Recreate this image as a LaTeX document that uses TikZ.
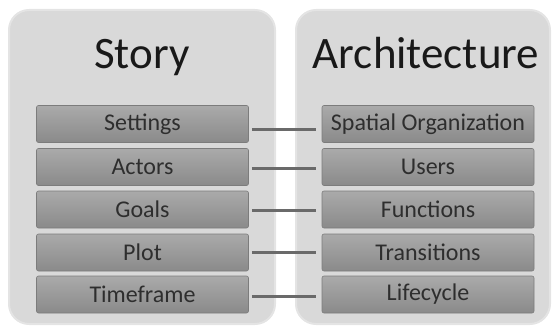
\documentclass[tikz,border=0pt]{standalone}
\usepackage{fontspec}
\setmainfont{Carlito}
\usepackage{xcolor}
\usetikzlibrary{arrows}

\definecolor{panelgray}{HTML}{D9D9D9}
\definecolor{panelrim}{HTML}{E4E4E4}
\definecolor{boxtop}{HTML}{AAAAAA}
\definecolor{boxbot}{HTML}{8A8A8A}
\definecolor{linkgray}{HTML}{6A6A6A}
\definecolor{labelgray}{HTML}{2E2E2E}

\tikzset{
  panel/.style={fill=panelgray, draw=panelrim, line width=2pt, rounded corners=20pt},
  title/.style={anchor=base, text=black!90, font=\fontsize{45}{45}\selectfont},
  item/.style={top color=boxtop, bottom color=boxbot, draw=boxbot!90!black, line width=0.6pt,
    rounded corners=2pt, minimum width=212pt, minimum height=37pt, inner sep=0pt,
    text=labelgray, font=\fontsize{24}{24}\selectfont},
  link/.style={draw=linkgray, line width=3pt, shorten <=3pt, shorten >=6pt}
}

\begin{document}
\begin{tikzpicture}[x=1pt,y=-1pt]
    \useasboundingbox (0,0) rectangle (555,329);

    \draw[panel] (9,10) rectangle (275,324);
    \draw[panel] (296,10) rectangle (550,324);

    \node[title] (story) at (142,69) {Story};
    \node[title] (arch) at (426,69) {Architecture};

    \node[item] (settings) at (142.5,124) {Settings};
    \node[item] (actors) at (142.5,167) {Actors};
    \node[item] (goals) at (142.5,209.5) {Goals};
    \node[item] (plot) at (142.5,252.5) {Plot};
    \node[item] (timeframe) at (142.5,294.5) {Timeframe};

    \node[item] (spatial) at (428,124) {Spatial Organization};
    \node[item] (users) at (428,167) {Users};
    \node[item] (functions) at (428,209.5) {Functions};
    \node[item] (transitions) at (428,252.5) {Transitions};
    \node[item] (lifecycle) at (428,294.5) {Lifecycle};

    \draw[link] ([yshift=-6pt]settings.east) -- ([yshift=-6pt]spatial.west);
    \draw[link] ([yshift=-1pt]actors.east) -- ([yshift=-1pt]users.west);
    \draw[link] ([yshift=-1pt]goals.east) -- ([yshift=-1pt]functions.west);
    \draw[link] (plot.east) -- (transitions.west);
    \draw[link] ([yshift=-2pt]timeframe.east) -- ([yshift=-2pt]lifecycle.west);
  \end{tikzpicture}
\end{document}
